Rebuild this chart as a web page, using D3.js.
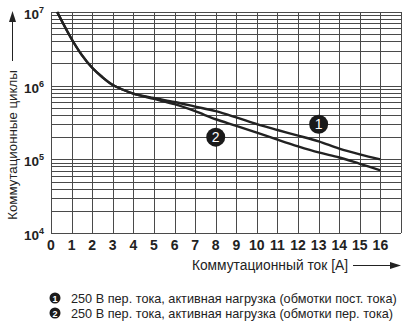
<!DOCTYPE html>
<html>
<head>
<meta charset="utf-8">
<script src="https://cdn.jsdelivr.net/npm/d3@7/dist/d3.min.js"></script>
<style>
  html, body { margin: 0; padding: 0; background: #fff; }
  svg { display: block; font-family: "Liberation Sans", Arial, sans-serif; }
</style>
</head>
<body>
<svg id="chart" width="408" height="326"></svg>
<script>
// Switching current, A
const xTicks = [0, 1, 2, 3, 4, 5, 6, 7, 8, 9, 10, 11, 12, 13, 14, 15, 16];
const yDecades = [4, 5, 6, 7];

// Curve 1: 250 V AC, resistive load (DC coil)
const current1 = [0.3, 1, 1.5, 2, 2.5, 3, 3.5, 4, 5, 6, 7, 8, 9, 10, 11, 12, 13, 14, 15, 16];
const cycles1 = [1e7, 4.3e6, 2.6e6, 1.75e6, 1.3e6, 1.02e6, 8.8e5, 7.8e5, 6.8e5, 6.0e5, 5.2e5, 4.5e5, 3.7e5, 3.0e5, 2.5e5, 2.1e5, 1.75e5, 1.4e5, 1.17e5, 1.0e5];

// Curve 2: 250 V AC, resistive load (AC coil)
const current2 = [0.3, 1, 1.5, 2, 2.5, 3, 3.5, 4, 5, 6, 7, 8, 9, 10, 11, 12, 13, 14, 15, 16];
const cycles2 = [1e7, 4.3e6, 2.6e6, 1.75e6, 1.3e6, 1.02e6, 8.8e5, 7.8e5, 6.6e5, 5.6e5, 4.5e5, 3.5e5, 2.85e5, 2.3e5, 1.85e5, 1.5e5, 1.24e5, 1.06e5, 8.7e4, 7.1e4];

// Numbered callouts on the curves
const markerIds = ["1", "2"];
const markerX = [13.0, 8.0];
const markerY = [3.0e5, 2.0e5];

const legendText = [
  "250 В пер. тока, активная нагрузка (обмотки пост. тока)",
  "250 В пер. тока, активная нагрузка (обмотки пер. тока)"
];
const yTitle = "Коммутационные циклы";
const xTitle = "Коммутационный ток [A]";

const svg = d3.select("#chart");
const ink = "#222";
const gridColor = "#4a4a4a";

const x = d3.scaleLinear().domain([0, 17]).range([51, 401]);
const y = d3.scaleLog().domain([1e4, 1e7]).range([233, 12]);

// grid: log minor lines
const hLines = [];
for (let d = 4; d < 7; d++) {
  for (let m = 1; m <= 9; m++) hLines.push(m * Math.pow(10, d));
}
hLines.push(1e7);

const grid = svg.append("g").attr("stroke", gridColor).attr("stroke-width", 1).attr("shape-rendering", "crispEdges");
grid.selectAll("line.h").data(hLines).join("line")
  .attr("class", "h")
  .attr("x1", x(0)).attr("x2", x(17))
  .attr("y1", d => Math.round(y(d)) + 0.5).attr("y2", d => Math.round(y(d)) + 0.5);
grid.selectAll("line.v").data(xTicks.concat([17])).join("line")
  .attr("class", "v")
  .attr("y1", y(1e7)).attr("y2", y(1e4))
  .attr("x1", d => Math.round(x(d)) + 0.5).attr("x2", d => Math.round(x(d)) + 0.5);

// x tick labels
svg.append("g").selectAll("text").data(xTicks).join("text")
  .attr("x", d => x(d)).attr("y", 250)
  .attr("text-anchor", "middle")
  .attr("font-size", 14).attr("font-weight", "bold").attr("fill", ink)
  .text(d => d);

// y tick labels 10^n
const yl = svg.append("g").selectAll("text").data(yDecades).join("text")
  .attr("x", 44).attr("y", d => y(Math.pow(10, d)) + 7)
  .attr("text-anchor", "end")
  .attr("font-size", 13.5).attr("font-weight", "bold").attr("fill", ink);
yl.append("tspan").text("10");
yl.append("tspan").attr("font-size", 9).attr("dy", -6).text(d => d);

// curves
const line = d3.line().x(d => x(d[0])).y(d => y(d[1])).curve(d3.curveCatmullRom.alpha(0.5));
svg.append("path").datum(d3.zip(current1, cycles1))
  .attr("d", line).attr("fill", "none").attr("stroke", ink).attr("stroke-width", 2.4);
svg.append("path").datum(d3.zip(current2, cycles2))
  .attr("d", line).attr("fill", "none").attr("stroke", ink).attr("stroke-width", 2.4);

// callouts
const mk = svg.append("g").selectAll("g").data(markerIds).join("g")
  .attr("transform", (d, i) => `translate(${x(markerX[i])},${y(markerY[i])})`);
mk.append("circle").attr("r", 9.5).attr("fill", "#1a1a1a");
mk.append("text").attr("text-anchor", "middle").attr("dy", 5)
  .attr("font-size", 14).attr("fill", "#fff").text(d => d);

// y axis title with arrow
svg.append("text")
  .attr("transform", "translate(17,145) rotate(-90)")
  .attr("text-anchor", "middle")
  .attr("font-size", 13.3).attr("fill", ink)
  .text(yTitle);
svg.append("line").attr("x1", 12.5).attr("x2", 12.5).attr("y1", 61).attr("y2", 20)
  .attr("stroke", ink).attr("stroke-width", 1);
svg.append("path").attr("d", "M12.5,11 L9,22 L16,22 Z").attr("fill", ink);

// x axis title with arrow
svg.append("text")
  .attr("x", 348).attr("y", 270)
  .attr("text-anchor", "end")
  .attr("font-size", 13.8).attr("fill", ink)
  .text(xTitle);
svg.append("line").attr("x1", 353).attr("x2", 392).attr("y1", 265.5).attr("y2", 265.5)
  .attr("stroke", ink).attr("stroke-width", 1);
svg.append("path").attr("d", "M401,265.5 L390,262 L390,269 Z").attr("fill", ink);

// legend
const lg = svg.append("g").selectAll("g").data(legendText).join("g")
  .attr("transform", (d, i) => `translate(55,${298 + i * 15})`);
lg.append("circle").attr("r", 5.5).attr("fill", "#1a1a1a");
lg.append("text").attr("text-anchor", "middle").attr("dy", 3.5)
  .attr("font-size", 9).attr("font-weight", "bold").attr("fill", "#fff")
  .text((d, i) => markerIds[i]);
lg.append("text").attr("x", 16).attr("dy", 4.5)
  .attr("font-size", 12.7).attr("fill", ink)
  .text(d => d);
</script>
</body>
</html>
